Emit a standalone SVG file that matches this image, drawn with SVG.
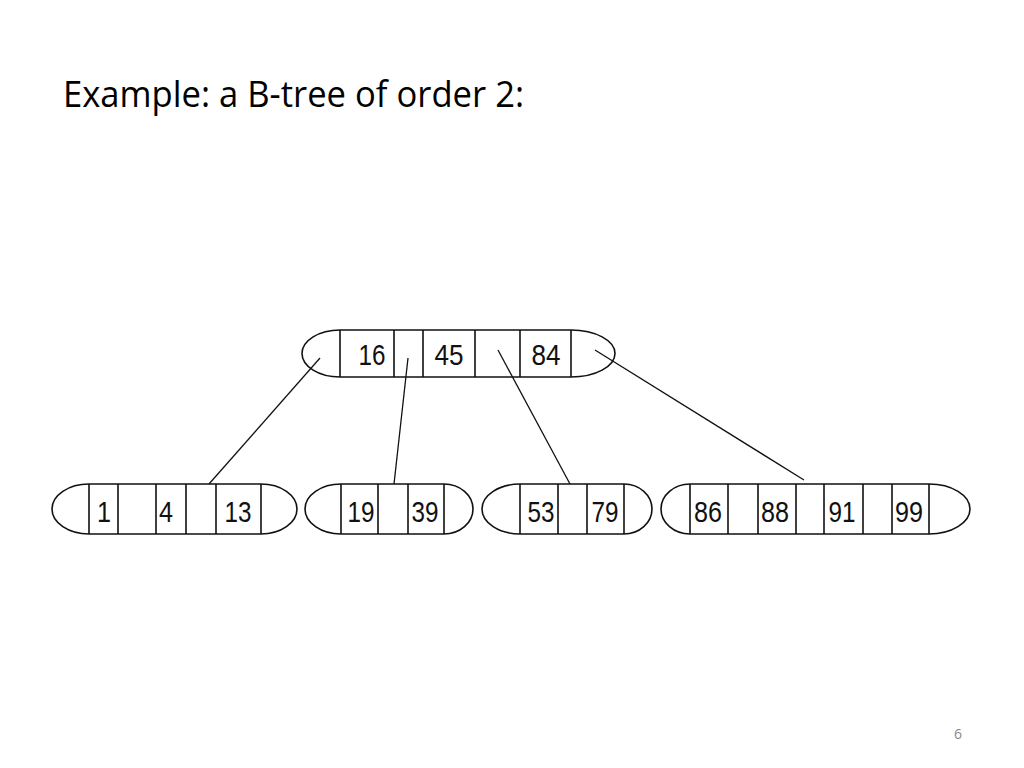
<svg xmlns="http://www.w3.org/2000/svg" width="1024" height="768" viewBox="0 0 1024 768">
<style>
.shape{fill:none;stroke:#111;stroke-width:1.6}
.div{stroke:#111;stroke-width:1.6}
.edge{stroke:#111;stroke-width:1.3;fill:none}
.key{font-family:"Liberation Sans",Arial,sans-serif;font-size:30px;fill:#111;text-anchor:middle}
.title{font-family:"Open Sans","Liberation Sans",sans-serif;font-size:36px;fill:#000}
.page{font-family:"Open Sans","Liberation Sans",sans-serif;font-size:14px;fill:#888;text-anchor:middle}
</style>
<rect width="1024" height="768" fill="#fff"/>
<text class="title" x="63" y="107" textLength="461" lengthAdjust="spacingAndGlyphs">Example: a B-tree of order 2:</text>
<text class="page" x="958" y="739">6</text>

<g id="connectors">
<line class="edge" x1="320" y1="358" x2="209" y2="484"/>
<line class="edge" x1="408" y1="358" x2="394" y2="484"/>
<line class="edge" x1="498" y1="350" x2="570" y2="484"/>
<line class="edge" x1="595" y1="350" x2="804" y2="480"/>
</g>

<g id="root">
<path class="shape" d="M340,330 L571,330 A44,23.5 0 0 1 571,377 L340,377 A38,23.5 0 0 1 340,330 Z"/>
<path class="div" d="M340,330V377M394,330V377M423,330V377M475,330V377M520,330V377M571,330V377"/>
<text class="key" x="372" y="365" textLength="27" lengthAdjust="spacingAndGlyphs">16</text>
<text class="key" x="449" y="365" textLength="29" lengthAdjust="spacingAndGlyphs">45</text>
<text class="key" x="546" y="365" textLength="29" lengthAdjust="spacingAndGlyphs">84</text>
</g>

<g id="leaf1">
<path class="shape" d="M89,484 L261,484 A36,25 0 0 1 261,534 L89,534 A37,25 0 0 1 89,484 Z"/>
<path class="div" d="M89,484V534M118,484V534M156,484V534M186,484V534M216,484V534M261,484V534"/>
<text class="key" x="104" y="522" textLength="14" lengthAdjust="spacingAndGlyphs">1</text>
<text class="key" x="166" y="522" textLength="14" lengthAdjust="spacingAndGlyphs">4</text>
<text class="key" x="238" y="522" textLength="27" lengthAdjust="spacingAndGlyphs">13</text>
</g>

<g id="leaf2">
<path class="shape" d="M341,484 L444,484 A29,25 0 0 1 444,534 L341,534 A36,25 0 0 1 341,484 Z"/>
<path class="div" d="M341,484V534M378,484V534M408,484V534M444,484V534"/>
<text class="key" x="361" y="522" textLength="27" lengthAdjust="spacingAndGlyphs">19</text>
<text class="key" x="425" y="522" textLength="27" lengthAdjust="spacingAndGlyphs">39</text>
</g>

<g id="leaf3">
<path class="shape" d="M520,484 L624,484 A28,25 0 0 1 624,534 L520,534 A38,25 0 0 1 520,484 Z"/>
<path class="div" d="M520,484V534M558,484V534M587,484V534M624,484V534"/>
<text class="key" x="541" y="522" textLength="27" lengthAdjust="spacingAndGlyphs">53</text>
<text class="key" x="605" y="522" textLength="27" lengthAdjust="spacingAndGlyphs">79</text>
</g>

<g id="leaf4">
<path class="shape" d="M690,484 L929,484 A41,25 0 0 1 929,534 L690,534 A29,25 0 0 1 690,484 Z"/>
<path class="div" d="M690,484V534M728,484V534M758,484V534M796,484V534M824,484V534M863,484V534M892,484V534M929,484V534"/>
<text class="key" x="708" y="522" textLength="28" lengthAdjust="spacingAndGlyphs">86</text>
<text class="key" x="775" y="522" textLength="28" lengthAdjust="spacingAndGlyphs">88</text>
<text class="key" x="842" y="522" textLength="27" lengthAdjust="spacingAndGlyphs">91</text>
<text class="key" x="909" y="522" textLength="28" lengthAdjust="spacingAndGlyphs">99</text>
</g>
</svg>
